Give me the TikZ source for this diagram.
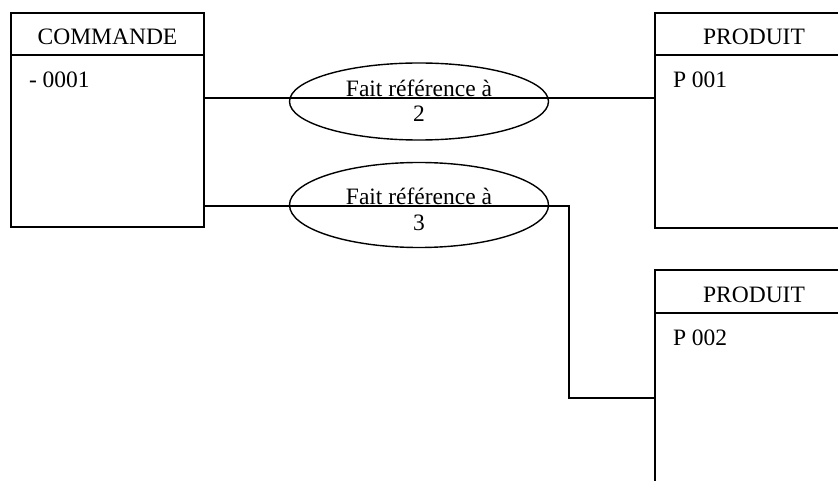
\documentclass[tikz,border=0pt]{standalone}
\usepackage{fontspec}
\setmainfont{Liberation Serif}
\usetikzlibrary{shapes.geometric}
\begin{document}
\begin{tikzpicture}[x=1pt,y=-1pt,
  every node/.style={font=\fontsize{23.5}{28}\selectfont, inner sep=0pt, outer sep=0pt},
  line/.style={line width=1.4pt},
  entity/.style={draw, line width=1.4pt, rectangle, anchor=north west},
  assoc/.style={draw, ellipse, line width=1.4pt, minimum width=259pt},
  lbl/.style={anchor=base}]
\useasboundingbox (0,0) rectangle (838,481);
\fill[white] (0,0) rectangle (838,481);
\clip (0,0) rectangle (838,481);
% entities
\node[entity, minimum width=193pt, minimum height=214pt] (cmd) at (11,13) {};
\node[entity, minimum width=198pt, minimum height=215pt] (p1) at (655,13) {};
\node[entity, minimum width=198pt, minimum height=260pt] (p2) at (655,270) {};
% header dividers
\coordinate (h1) at (0,55);
\coordinate (h2) at (0,313);
\draw[line] (cmd.west |- h1) -- (cmd.east |- h1);
\draw[line] (p1.west |- h1) -- (p1.east |- h1);
\draw[line] (p2.west |- h2) -- (p2.east |- h2);
% entity texts
\node[lbl] (cmdT) at (107.5,45) {COMMANDE};
\node[lbl, anchor=base west] (cmdA) at (29,87.5) {- 0001};
\node[lbl] (p1T) at (754,45) {PRODUIT};
\node[lbl, anchor=base west] (p1A) at (673,88) {P 001};
\node[lbl] (p2T) at (754,302) {PRODUIT};
\node[lbl, anchor=base west] (p2A) at (673,345) {P 002};
% associations
\node[assoc, minimum height=77pt] (r1) at (419,101.5) {};
\node[lbl] (r1a) at (419,97) {Fait référence à};
\node[lbl] (r1b) at (419,122) {2};
\node[assoc, minimum height=85pt] (r2) at (419,205) {};
\node[lbl] (r2a) at (419,205) {Fait référence à};
\node[lbl] (r2b) at (419,230) {3};
% connectors
\coordinate (y1) at (0,98);
\coordinate (y2) at (0,206);
\coordinate (k) at (569,398);
\draw[line] (cmd.east |- y1) -- (p1.west |- y1);
\draw[line] (cmd.east |- y2) -| (k) -- (p2.west |- k);
\end{tikzpicture}
\end{document}
